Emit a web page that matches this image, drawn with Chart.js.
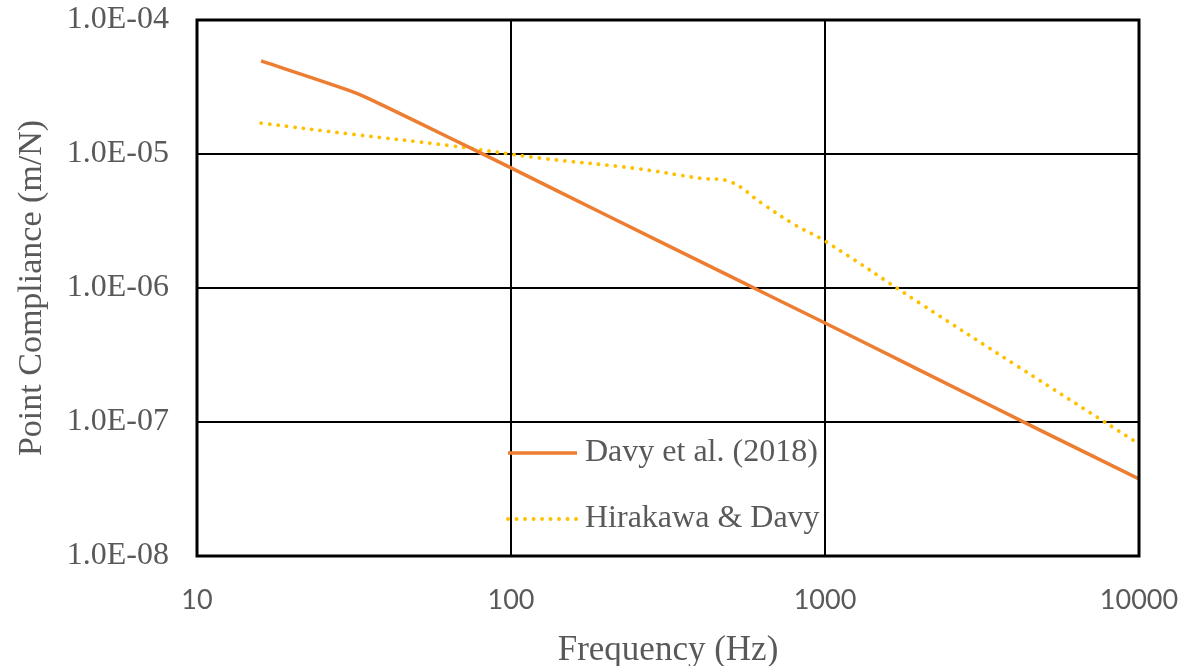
<!DOCTYPE html>
<html>
<head>
<meta charset="utf-8">
<script src="https://cdn.jsdelivr.net/npm/chart.js@4.4.1/dist/chart.umd.min.js"></script>
<style>
    html, body { margin: 0; padding: 0; background: #fff; }
    #caja { width: 1188px; height: 666px; }
</style>
</head>
<body>
<div id="caja"><canvas id="graficoCompliance" width="1188" height="666"></canvas></div>
<script>
// datos
let frecDavy = [16, 31.5, 40, 63, 100, 200, 500, 1000, 2000, 5000, 10000];
let valDavy = [4.95e-5, 2.9e-5, 2.25e-5, 1.34e-5, 7.87e-6, 3.52e-6, 1.22e-6, 5.48e-7, 2.44e-7, 8.37e-8, 3.76e-8];

let frecHira = [16, 31.5, 63, 125, 250, 400, 500, 630, 800, 1000, 2000, 4000, 10000];
let valHira = [1.70e-5, 1.40e-5, 1.16e-5, 9.3e-6, 7.8e-6, 6.59e-6, 6.2e-6, 4.28e-6, 2.97e-6, 2.24e-6, 7.73e-7, 2.71e-7, 6.86e-8];

let ticksX = [10, 100, 1000, 10000];
let etiquetasX = ["10", "100", "1000", "10000"];
let ticksY = [1e-8, 1e-7, 1e-6, 1e-5, 1e-4];
let etiquetasY = ["1.0E-08", "1.0E-07", "1.0E-06", "1.0E-05", "1.0E-04"];

let nombres = ["Davy et al. (2018)", "Hirakawa & Davy"];

let gris = "#595959";

function puntos(xs, ys) {
    return xs.map((x, i) => ({ x: x, y: ys[i] }));
}

// marco negro del area
const marco = {
    id: "marco",
    afterDraw(chart) {
        const a = chart.chartArea;
        const ctx = chart.ctx;
        ctx.save();
        ctx.strokeStyle = "#000";
        ctx.lineWidth = 3;
        ctx.strokeRect(a.left, a.top, a.right - a.left, a.bottom - a.top);
        ctx.restore();
    }
};

// leyenda dentro del grafico
const leyenda = {
    id: "leyenda",
    afterDraw(chart) {
        const ctx = chart.ctx;
        const filas = [453, 519];
        ctx.save();
        chart.data.datasets.forEach(function (ds, i) {
            let y = filas[i];
            ctx.beginPath();
            ctx.strokeStyle = ds.borderColor;
            ctx.lineWidth = ds.borderWidth;
            ctx.lineCap = ds.borderCapStyle || "butt";
            ctx.setLineDash(ds.borderDash || []);
            ctx.moveTo(508, y);
            ctx.lineTo(577, y);
            ctx.stroke();
            ctx.setLineDash([]);
            ctx.fillStyle = gris;
            ctx.font = "32px 'Liberation Serif'";
            ctx.textBaseline = "middle";
            ctx.textAlign = "left";
            ctx.fillText(ds.label, 585, y);
        });
        ctx.restore();
    }
};

new Chart(document.getElementById("graficoCompliance"), {
    type: "line",
    data: {
        datasets: [{
            label: nombres[0],
            data: puntos(frecDavy, valDavy),
            borderColor: "#ED7D31",
            borderWidth: 3.5,
            pointRadius: 0,
            tension: 0.25
        }, {
            label: nombres[1],
            data: puntos(frecHira, valHira),
            borderColor: "#FFC000",
            borderWidth: 3.8,
            borderDash: [0.1, 8.4],
            borderCapStyle: "round",
            pointRadius: 0,
            tension: 0.4
        }]
    },
    options: {
        responsive: false,
        animation: false,
        layout: { padding: { left: 0, right: 49, top: 20, bottom: 0 } },
        plugins: {
            legend: { display: false },
            tooltip: { enabled: false }
        },
        scales: {
            x: {
                type: "logarithmic",
                min: 10,
                max: 10000,
                afterBuildTicks: function (s) { s.ticks = ticksX.map(v => ({ value: v })); },
                afterFit: function (s) {
                    s.height = 110;
                    s.paddingLeft = 0;
                    s.paddingRight = 0;
                },
                grid: { color: "#000", lineWidth: 2, drawTicks: false },
                border: { display: false },
                ticks: {
                    autoSkip: false,
                    maxRotation: 0,
                    padding: 28,
                    color: gris,
                    font: { family: "Lato", size: 27 },
                    callback: function (v, i) { return etiquetasX[i]; }
                },
                title: {
                    display: true,
                    text: "Frequency (Hz)",
                    color: gris,
                    font: { family: "'Liberation Serif'", size: 35 },
                    padding: { top: 0, bottom: -6 }
                }
            },
            y: {
                type: "logarithmic",
                min: 1e-8,
                max: 1e-4,
                afterBuildTicks: function (s) { s.ticks = ticksY.map(v => ({ value: v })); },
                afterFit: function (s) {
                    s.width = 197;
                    s.paddingTop = 0;
                    s.paddingBottom = 0;
                },
                grid: { color: "#000", lineWidth: 2, drawTicks: false },
                border: { display: false },
                ticks: {
                    autoSkip: false,
                    padding: 28,
                    color: gris,
                    font: { family: "'Liberation Serif'", size: 32 },
                    callback: function (v, i) { return etiquetasY[i]; }
                },
                title: {
                    display: true,
                    text: "Point Compliance (m/N)",
                    color: gris,
                    font: { family: "'Liberation Serif'", size: 34 },
                    padding: { top: 12, bottom: 0 }
                }
            }
        }
    },
    plugins: [marco, leyenda]
});
</script>
</body>
</html>
